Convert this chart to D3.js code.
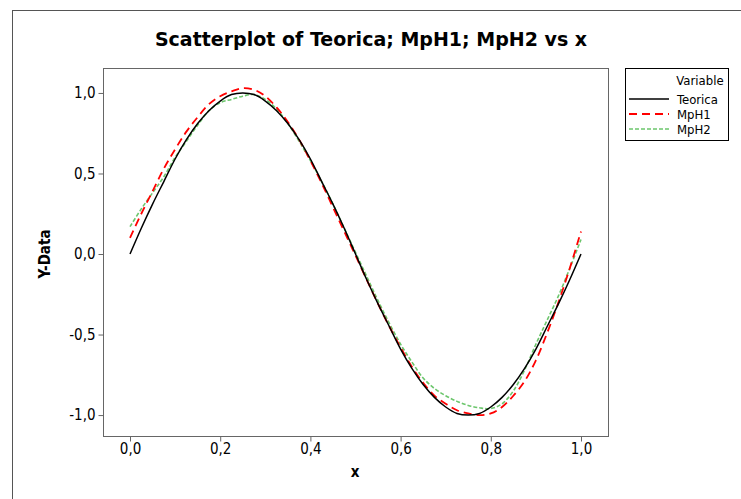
<!DOCTYPE html>
<html><head><meta charset="utf-8">
<script src="https://cdn.jsdelivr.net/npm/d3@7"></script>
<style>
html,body{margin:0;padding:0;background:#fff;}
svg{display:block;}
text{font-family:"DejaVu Sans Condensed","DejaVu Sans",Tahoma,sans-serif;}
</style></head><body>
<svg id="chart" width="741" height="499"></svg>
<script>
const xValues = [0,0.025,0.05,0.075,0.1,0.125,0.15,0.175,0.2,0.225,0.25,0.275,0.3,0.325,0.35,0.375,0.4,0.425,0.45,0.475,0.5,0.525,0.55,0.575,0.6,0.625,0.65,0.675,0.7,0.725,0.75,0.775,0.8,0.825,0.85,0.875,0.9,0.925,0.95,0.975,1.0];
const teorica = [0.00,0.16,0.31,0.45,0.59,0.71,0.81,0.89,0.95,0.99,1.00,0.99,0.95,0.89,0.81,0.71,0.59,0.45,0.31,0.16,0.00,-0.16,-0.31,-0.45,-0.59,-0.71,-0.81,-0.89,-0.95,-0.99,-1.00,-0.99,-0.95,-0.89,-0.81,-0.71,-0.59,-0.45,-0.31,-0.16,0.00];
const mph1 = [0.10,0.25,0.39,0.53,0.65,0.76,0.85,0.93,0.98,1.01,1.03,1.02,0.98,0.91,0.82,0.71,0.58,0.44,0.29,0.14,-0.01,-0.16,-0.31,-0.45,-0.58,-0.70,-0.80,-0.88,-0.93,-0.97,-0.99,-1.00,-0.99,-0.95,-0.88,-0.79,-0.66,-0.49,-0.30,-0.09,0.14];
const mph2 = [0.17,0.28,0.38,0.48,0.60,0.70,0.80,0.89,0.94,0.96,0.98,0.99,0.96,0.90,0.81,0.70,0.58,0.45,0.31,0.16,0.01,-0.14,-0.29,-0.43,-0.56,-0.67,-0.77,-0.835,-0.88,-0.915,-0.94,-0.955,-0.96,-0.93,-0.85,-0.72,-0.56,-0.41,-0.26,-0.09,0.09];
const seriesNames = ["Teorica","MpH1","MpH2"];
const xTicks = [0,0.2,0.4,0.6,0.8,1.0];
const yTicks = [-1.0,-0.5,0.0,0.5,1.0];
const titleText = "Scatterplot of Teorica; MpH1; MpH2 vs x";

const svg = d3.select("#chart");
const fmt = d => d3.format(".1f")(d).replace(".", ",").replace("−","-");

// outer frame
svg.append("rect").attr("x",12.5).attr("y",10.5).attr("width",800).attr("height",600)
  .attr("fill","none").attr("stroke","#555").attr("stroke-width",1);

const plot = {left:103, right:608, top:68, bottom:436};
const x = d3.scaleLinear().domain([-0.0599, 1.0599]).range([plot.left, plot.right]);
const y = d3.scaleLinear().domain([-1.13, 1.155]).range([plot.bottom, plot.top]);

svg.append("rect").attr("x",plot.left+0.5).attr("y",plot.top+0.5)
  .attr("width",plot.right-plot.left).attr("height",plot.bottom-plot.top)
  .attr("fill","none").attr("stroke","#666").attr("stroke-width",1);

const xAxis = svg.append("g").attr("transform",`translate(0,${plot.bottom+0.5})`)
  .call(d3.axisBottom(x).tickValues(xTicks).tickFormat(fmt).tickSize(5).tickPadding(2));
const yAxis = svg.append("g").attr("transform",`translate(${plot.left+0.5},0)`)
  .call(d3.axisLeft(y).tickValues(yTicks).tickFormat(fmt).tickSize(5).tickPadding(3));
[xAxis,yAxis].forEach(g=>{
  g.select(".domain").remove();
  g.selectAll(".tick line").attr("stroke","#666");
  g.selectAll(".tick text").attr("fill","#000").style("font-size","15px")
   .style("font-family",'"DejaVu Sans Condensed","DejaVu Sans",sans-serif');
});

const line = vals => d3.line().x((d,i)=>x(xValues[i])).y(d=>y(d)).curve(d3.curveCatmullRom.alpha(0.5))(vals);

svg.append("path").attr("d",line(mph2)).attr("fill","none").attr("stroke","#6cc66c")
  .attr("stroke-width",1.6).attr("stroke-dasharray","4,2");
svg.append("path").attr("d",line(mph1)).attr("fill","none").attr("stroke","#ff0000")
  .attr("stroke-width",1.8).attr("stroke-dasharray","8,5");
svg.append("path").attr("d",line(teorica)).attr("fill","none").attr("stroke","#000")
  .attr("stroke-width",1.5);

// title
svg.append("text").attr("x",371).attr("y",46).attr("text-anchor","middle")
  .style("font-family",'"DejaVu Sans",sans-serif')
  .style("font-size","19px").style("font-weight","bold").text(titleText);
// axis labels
svg.append("text").attr("x",355).attr("y",477).attr("text-anchor","middle")
  .style("font-size","15px").style("font-weight","bold").text("x");
svg.append("text").attr("transform","translate(50,254) rotate(-90)").attr("text-anchor","middle")
  .style("font-size","15px").style("font-weight","bold").text("Y-Data");

// legend
const lg = svg.append("g");
lg.append("rect").attr("x",625.5).attr("y",68.5).attr("width",103).attr("height",72)
  .attr("fill","#fff").attr("stroke","#000").attr("stroke-width",1);
lg.append("text").attr("x",700).attr("y",85).attr("text-anchor","middle").style("font-size","13px").text("Variable");
const styles = [
  {stroke:"#000", w:1.5, dash:null},
  {stroke:"#ff0000", w:2, dash:"8,5"},
  {stroke:"#6cc66c", w:1.6, dash:"4,2"}
];
seriesNames.forEach((n,i)=>{
  const yy = 99 + i*15;
  lg.append("line").attr("x1",629).attr("x2",669).attr("y1",yy).attr("y2",yy)
    .attr("stroke",styles[i].stroke).attr("stroke-width",styles[i].w)
    .attr("stroke-dasharray",styles[i].dash);
  lg.append("text").attr("x",677).attr("y",yy+4.5).style("font-size","13px").text(n);
});
</script>
</body></html>
